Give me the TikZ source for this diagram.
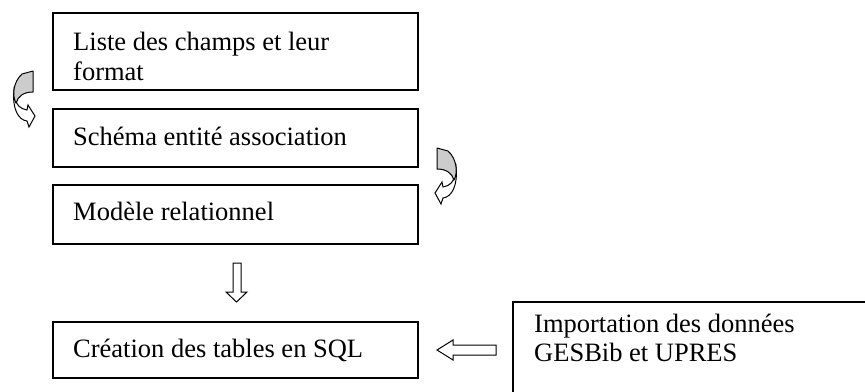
\documentclass[tikz,border=0pt]{standalone}
\usepackage{fontspec}
\setmainfont{Liberation Serif}
\begin{document}
\begin{tikzpicture}[x=1pt,y=-1pt,
  box/.style={draw=black, line width=1.5pt, inner sep=0pt, fill=white},
  lbl/.style={anchor=base west, inner sep=0pt, font=\fontsize{26.5}{30}\selectfont},
  blockarrow/.style={draw=black, line width=1pt, fill=white, line join=miter},
  curvegray/.style={draw=black, line width=1pt, fill=gray!40, line join=round},
  curvewhite/.style={draw=black, line width=1pt, fill=white, line join=miter}]
\clip (0,0) rectangle (865,391);
\fill[white] (0,0) rectangle (865,391);
% boxes
\node[box, minimum width=365pt, minimum height=77pt] (b1) at (235.5,51.5) {};
\node[box, minimum width=365pt, minimum height=58pt] (b2) at (235.5,138) {};
\node[box, minimum width=365pt, minimum height=59pt] (b3) at (235.5,214.5) {};
\node[box, minimum width=365pt, minimum height=56pt] (b4) at (235.5,350) {};
\node[box, minimum width=387pt, minimum height=118pt] (b5) at (706.5,361) {};
% texts
\node[lbl] (t1a) at (73,50) {Liste des champs et leur};
\node[lbl] (t1b) at (73,80) {format};
\node[lbl] (t2) at (73,145) {Schéma entité association};
\node[lbl] (t3) at (73,220) {Modèle relationnel};
\node[lbl] (t4) at (73,357) {Création des tables en SQL};
\node[lbl] (t5a) at (534,332) {Importation des données};
\node[lbl] (t5b) at (534,361) {GESBib et UPRES};
% down block arrow (b3 -> b4)
\draw[blockarrow] (233,263) -- (241,263) -- (241,292) -- (247,292) -- (236.5,302) -- (226,292) -- (233,292) -- cycle;
% left block arrow (b5 -> b4)
\draw[blockarrow] (437,350) -- (453,340) -- (453,345) -- (496,345) -- (496,355) -- (453,355) -- (453,360) -- cycle;
% curved arrow b1 -> b2 (left side)
\begin{scope}
  \draw[curvewhite] (14,90) .. controls (12,108) and (18,120) .. (27,121) -- (29,127) -- (35,116) -- (28,105) -- (27,110) .. controls (20,109) and (16,104) .. (16,100) -- cycle;
  \draw[curvegray] (22,74) -- (33,71) -- (33,92) .. controls (24,92) and (18,96) .. (16,103) .. controls (12,96) and (13,82) .. (22,74) -- cycle;
\end{scope}
% curved arrow b2 -> b3 (right side, mirrored)
\begin{scope}[shift={(470,77)}, xscale=-1]
  \draw[curvewhite] (14,90) .. controls (12,108) and (18,120) .. (27,121) -- (29,127) -- (35,116) -- (28,105) -- (27,110) .. controls (20,109) and (16,104) .. (16,100) -- cycle;
  \draw[curvegray] (22,74) -- (33,71) -- (33,92) .. controls (24,92) and (18,96) .. (16,103) .. controls (12,96) and (13,82) .. (22,74) -- cycle;
\end{scope}
\end{tikzpicture}
\end{document}
